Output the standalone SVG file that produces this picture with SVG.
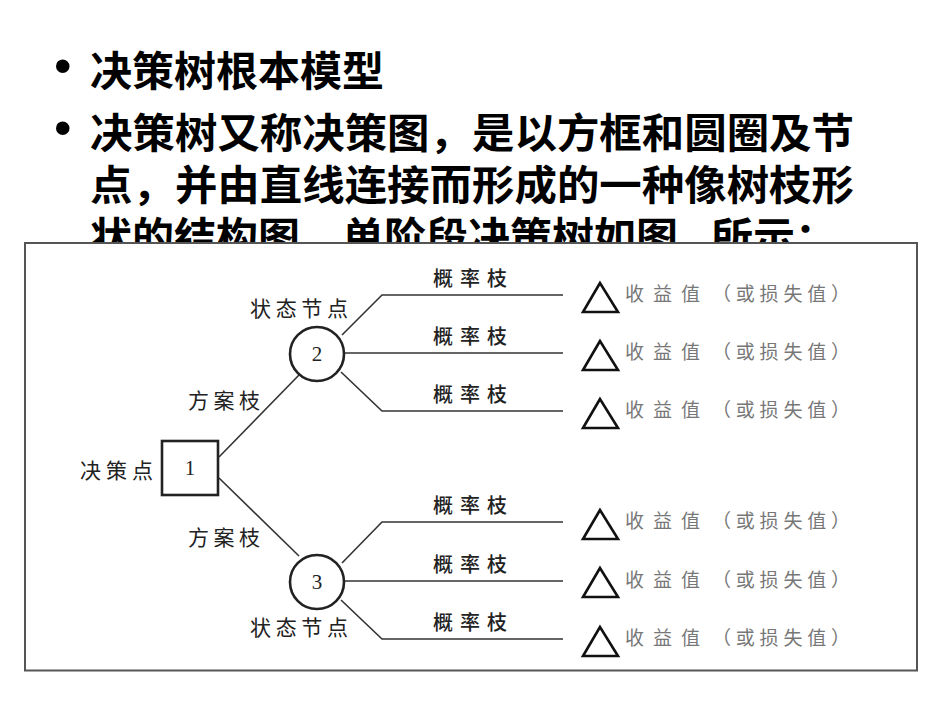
<svg xmlns="http://www.w3.org/2000/svg" width="950" height="713" viewBox="0 0 950 713">
<style>
.title{font-family:"Noto Sans CJK SC","Noto Sans",sans-serif;font-weight:bold;font-size:41px;fill:#000}
.bullet{font-family:"Liberation Sans",sans-serif;font-size:50px;fill:#000}
.lbl{font-family:"Noto Sans CJK SC",sans-serif;font-size:21px;fill:#222}
.prob{font-family:"Noto Sans CJK SC",sans-serif;font-size:20px;fill:#222;font-weight:500}
.val{font-family:"Noto Sans CJK SC",sans-serif;font-size:19px;fill:#777}
.num{font-family:"Liberation Serif",serif;font-size:21px;fill:#222;text-anchor:middle}
.ln{stroke:#333;stroke-width:1.6;fill:none}
.node{stroke:#222;stroke-width:2.6;fill:#fff}
.tri{stroke:#111;stroke-width:2.6;fill:#fff;stroke-linejoin:miter}
</style>
<rect width="950" height="713" fill="#fff"/>
<g id="heading">
<text class="bullet" x="54" y="83">•</text>
<text class="title" x="90" y="86" textLength="294" lengthAdjust="spacingAndGlyphs">决策树根本模型</text>
<text class="bullet" x="54" y="145">•</text>
<text class="title" x="90" y="148" textLength="764" lengthAdjust="spacingAndGlyphs">决策树又称决策图，是以方框和圆圈及节</text>
<text class="title" x="90" y="200" textLength="764" lengthAdjust="spacingAndGlyphs">点，并由直线连接而形成的一种像树枝形</text>
<text class="title" x="90" y="252" textLength="588" lengthAdjust="spacingAndGlyphs">状的结构图。单阶段决策树如图</text>
<text class="title" x="711" y="252" textLength="126" lengthAdjust="spacingAndGlyphs">所示：</text>
</g>
<rect id="frame" x="25" y="243" width="892" height="427.5" fill="#fff" stroke="#555" stroke-width="2"/>
<g id="connectors">
<path class="ln" d="M219 457 L299 375"/>
<path class="ln" d="M219 478 L299 556"/>
<path class="ln" d="M342 335 L382 295 L563 295"/>
<path class="ln" d="M344 353 L563 353"/>
<path class="ln" d="M341 372 L382 411 L563 411"/>
<path class="ln" d="M342 563 L382 522 L563 522"/>
<path class="ln" d="M344 581 L563 581"/>
<path class="ln" d="M341 600 L382 639 L563 639"/>
</g>
<g id="edge-labels">
<text class="lbl" x="188" y="408" textLength="72">方案枝</text>
<text class="lbl" x="188" y="545" textLength="72">方案枝</text>
<text class="prob" x="433" y="286" textLength="74">概率枝</text>
<text class="prob" x="433" y="344" textLength="74">概率枝</text>
<text class="prob" x="433" y="402" textLength="74">概率枝</text>
<text class="prob" x="433" y="513" textLength="74">概率枝</text>
<text class="prob" x="433" y="572" textLength="74">概率枝</text>
<text class="prob" x="433" y="630" textLength="74">概率枝</text>
</g>
<g id="decision-node">
<rect class="node" x="162" y="441" width="56" height="54"/>
<text class="num" x="190" y="475">1</text>
<text class="lbl" x="80" y="478" textLength="73">决策点</text>
</g>
<g id="state-node-2">
<circle class="node" cx="317" cy="354" r="27"/>
<text class="num" x="317" y="361">2</text>
<text class="lbl" x="250" y="316" textLength="98">状态节点</text>
</g>
<g id="state-node-3">
<circle class="node" cx="317" cy="582" r="27"/>
<text class="num" x="317" y="589">3</text>
<text class="lbl" x="250" y="635" textLength="98">状态节点</text>
</g>
<g id="end-1"><path class="tri" d="M600 283 L583 312 L618 312 Z"/><text class="val" x="625" y="301" textLength="75">收益值</text><text class="val" x="712" y="301" textLength="138">（或损失值）</text></g>
<g id="end-2"><path class="tri" d="M600 341 L583 370 L618 370 Z"/><text class="val" x="625" y="359" textLength="75">收益值</text><text class="val" x="712" y="359" textLength="138">（或损失值）</text></g>
<g id="end-3"><path class="tri" d="M600 399 L583 428 L618 428 Z"/><text class="val" x="625" y="417" textLength="75">收益值</text><text class="val" x="712" y="417" textLength="138">（或损失值）</text></g>
<g id="end-4"><path class="tri" d="M600 510 L583 539 L618 539 Z"/><text class="val" x="625" y="528" textLength="75">收益值</text><text class="val" x="712" y="528" textLength="138">（或损失值）</text></g>
<g id="end-5"><path class="tri" d="M600 568 L583 597 L618 597 Z"/><text class="val" x="625" y="587" textLength="75">收益值</text><text class="val" x="712" y="587" textLength="138">（或损失值）</text></g>
<g id="end-6"><path class="tri" d="M600 627 L583 656 L618 656 Z"/><text class="val" x="625" y="645" textLength="75">收益值</text><text class="val" x="712" y="645" textLength="138">（或损失值）</text></g>
</svg>
